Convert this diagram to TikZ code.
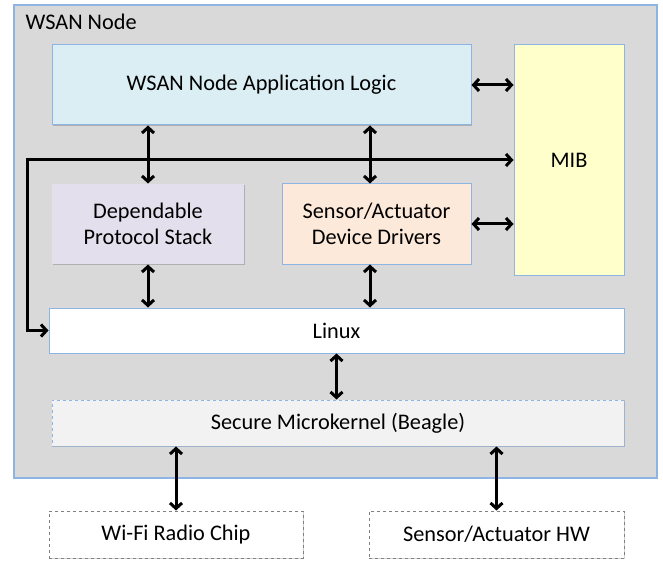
\documentclass[tikz,border=0pt]{standalone}
\usepackage{fontspec}
\setmainfont{Carlito}
\usetikzlibrary{arrows.meta,calc,shadows}
\definecolor{outerfill}{HTML}{D9D9D9}
\definecolor{bluebd}{HTML}{8EB4E3}
\definecolor{appfill}{HTML}{DAEEF3}
\definecolor{mibfill}{HTML}{FFFFCC}
\definecolor{depfill}{HTML}{E4DFEC}
\definecolor{drvfill}{HTML}{FDE9D9}
\definecolor{micfill}{HTML}{F2F2F2}
\definecolor{hwbd}{HTML}{808080}
\begin{document}
\begin{tikzpicture}[x=1pt,y=-1pt,
  txt/.style={font=\fontsize{22.3}{26}\selectfont, align=center, text=black},
  blk/.style={txt, draw=bluebd, line width=1pt, inner sep=0pt, anchor=center,
    drop shadow={shadow xshift=1.2pt, shadow yshift=-1.2pt, opacity=0.35, fill=black!60}},
  hwbox/.style={txt, draw=hwbd, dashed, line width=1pt, fill=white, inner sep=0pt, anchor=center,
    drop shadow={shadow xshift=1.2pt, shadow yshift=-1.2pt, opacity=0.3, fill=black!60}},
  link/.style={line width=3pt, {Straight Barb[length=5.5pt,width=12pt]}-{Straight Barb[length=5.5pt,width=12pt]}}
]
\useasboundingbox (0,0) rectangle (663,561);
% outer container
\draw[draw=bluebd, fill=outerfill, line width=1.2pt,
  drop shadow={shadow xshift=1.2pt, shadow yshift=-1.2pt, opacity=0.3, fill=black!60}]
  (14,5) rectangle (657,478);
\node[txt, anchor=base west] (title) at (22,30) {WSAN Node};

\node[blk, fill=appfill, minimum width=419pt, minimum height=80pt] (app) at (261.5,85) {WSAN Node Application Logic};
\node[blk, fill=mibfill, minimum width=110pt, minimum height=230pt] (mib) at (569,160) {MIB};
\node[blk, fill=depfill, draw=none, minimum width=192pt, minimum height=80pt] (dep) at (148,224) {Dependable\\Protocol Stack};
\node[blk, fill=drvfill, minimum width=189pt, minimum height=80pt] (drv) at (376.5,224) {Sensor/Actuator\\Device Drivers};
\node[blk, fill=white, minimum width=575pt, minimum height=45pt] (linux) at (336.5,330.5) {Linux};
\node[blk, fill=micfill, dashed, minimum width=572pt, minimum height=46pt] (micro) at (338,423) {Secure Microkernel (Beagle)};
\node[hwbox, minimum width=254pt, minimum height=47pt] (wifi) at (176,534.5) {Wi-Fi Radio Chip};
\node[hwbox, minimum width=255pt, minimum height=47pt] (hw) at (496.5,534.5) {Sensor/Actuator HW};

\coordinate (ctl) at (27,160);
\coordinate (drvx) at ($(drv.north)+(-6.5,0)$);
\coordinate (drvxs) at ($(drv.south)+(-6.5,0)$);

\draw[link] (app.east) -- (app.east -| mib.west);
\draw[link] (dep.north |- app.south) -- (dep.north);
\draw[link] (drvx |- app.south) -- (drvx);
\draw[link] (ctl -| mib.west) -- (ctl) -- (ctl |- linux.west) -- (linux.west);
\draw[link] (drv.east) -- (drv.east -| mib.west);
\draw[link] (dep.south) -- (dep.south |- linux.north);
\draw[link] (drvxs) -- (drvxs |- linux.north);
\draw[link] (linux.south) -- (linux.south |- micro.north);
\draw[link] (wifi.north |- micro.south) -- (wifi.north);
\draw[link] (hw.north |- micro.south) -- (hw.north);
\end{tikzpicture}
\end{document}
